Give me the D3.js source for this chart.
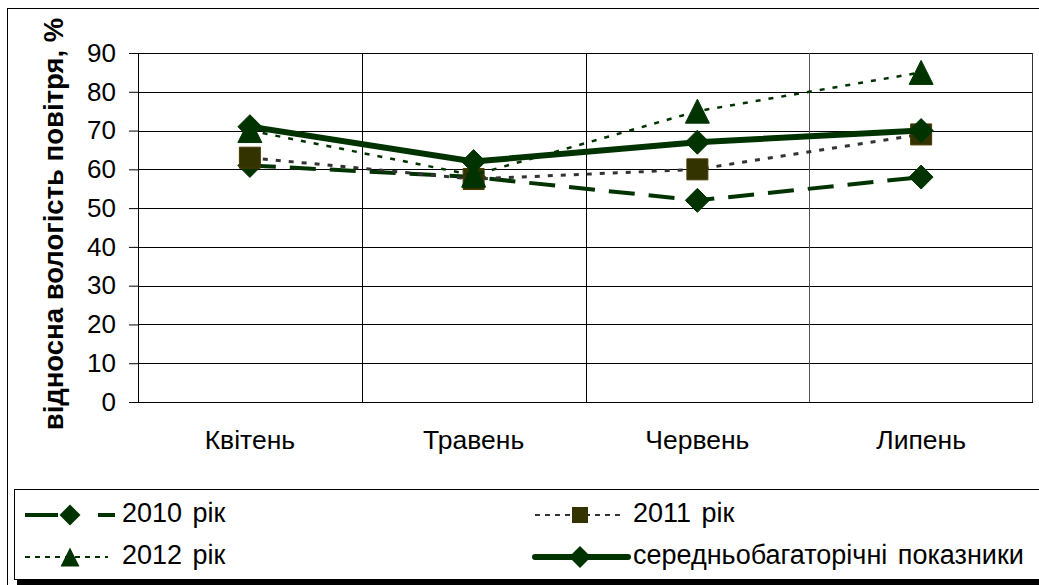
<!DOCTYPE html>
<html>
<head>
<meta charset="utf-8">
<script src="https://cdn.jsdelivr.net/npm/d3@7"></script>
<style>
  body { margin: 0; background: #fff; }
  text { font-family: "Liberation Sans", Arial, sans-serif; fill: #000; }
</style>
</head>
<body>
<div id="chart"></div>
<script>
// data
const months = ["Квітень", "Травень", "Червень", "Липень"];
const yTicks = [0, 10, 20, 30, 40, 50, 60, 70, 80, 90];
const y2010 = [61, 58, 52, 58];
const y2011 = [63, 57.5, 60, 69];
const y2012 = [70, 58.5, 75, 85];
const yAvg  = [71, 62, 67, 70];
const seriesNames = ["2010 рік", "2011 рік", "2012 рік", "середньобагаторічні показники"];

const W = 1039, H = 585;
const margin = { top: 53, right: 6, bottom: 183, left: 138 };
const width = W - margin.left - margin.right,
      height = H - margin.top - margin.bottom;

const svg = d3.select("#chart").append("svg")
  .attr("width", W).attr("height", H);

// outer chart frame (runs off the right / bottom edge)
svg.append("rect")
  .attr("x", 7.5).attr("y", 8.5).attr("width", 1100).attr("height", 600)
  .attr("fill", "none").attr("stroke", "#000");

const g = svg.append("g").attr("transform", `translate(${margin.left},${margin.top})`);

const x = d3.scaleBand().domain(months).range([0, width]);
const y = d3.scaleLinear().domain([0, 90]).range([height, 0]);

// horizontal grid
g.append("g").selectAll("line").data(yTicks).join("line")
  .attr("x1", 0).attr("x2", width)
  .attr("y1", d => Math.round(y(d)) + 0.5).attr("y2", d => Math.round(y(d)) + 0.5)
  .attr("stroke", "#000").attr("stroke-width", 1);

// vertical grid at category boundaries
g.append("g").selectAll("line").data(months.slice(1)).join("line")
  .attr("x1", d => Math.round(x(d)) + 0.5).attr("x2", d => Math.round(x(d)) + 0.5)
  .attr("y1", 0).attr("y2", height)
  .attr("stroke", (d, i) => i === 2 ? "#555" : "#000");

// plot border right
g.append("line")
  .attr("x1", width - 0.5).attr("x2", width - 0.5).attr("y1", 0).attr("y2", height)
  .attr("stroke", "#333");

// y axis
const yAxis = g.append("g")
  .call(d3.axisLeft(y).tickValues(yTicks).tickSize(9).tickPadding(13));
yAxis.select(".domain").attr("stroke", "#000");
yAxis.selectAll("text").style("font-size", "26px").attr("font-family", "Liberation Sans, Arial, sans-serif");

// x labels
g.append("g").selectAll("text").data(months).join("text")
  .attr("x", d => x(d) + x.bandwidth() / 2)
  .attr("y", height + 47)
  .attr("text-anchor", "middle")
  .style("font-size", "26.5px")
  .text(d => d);

// y title
svg.append("text")
  .attr("transform", "translate(63,224) rotate(-90)")
  .attr("text-anchor", "middle")
  .style("font-size", "27.5px").style("font-weight", "bold")
  .text("відносна вологість повітря, %");

const green = "#003300", olive = "#333300";

// marker paths
function diamond(r) { return `M0,${-r}L${r},0L0,${r}L${-r},0Z`; }
function square(r) { return `M${-r},${-r}H${r}V${r}H${-r}Z`; }
function triangle(r) { return `M0,${-r}L${r},${r}H${-r}Z`; }

const series = [
  { name: seriesNames[0], values: y2010, stroke: green, width: 4, dash: "26,14", marker: diamond, r: 12, fill: green },
  { name: seriesNames[1], values: y2011, stroke: "#333", width: 3, dash: "5,8", marker: square, r: 10.5, fill: olive },
  { name: seriesNames[2], values: y2012, stroke: green, width: 2.5, dash: "5,8", marker: triangle, r: 12, fill: green },
  { name: seriesNames[3], values: yAvg, stroke: green, width: 6, dash: null, marker: diamond, r: 12, fill: green }
];

const line = d3.line()
  .x((d, i) => x(months[i]) + x.bandwidth() / 2)
  .y(d => y(d));

series.forEach(s => {
  g.append("path")
    .datum(s.values)
    .attr("fill", "none")
    .attr("stroke", s.stroke)
    .attr("stroke-width", s.width)
    .attr("stroke-dasharray", s.dash)
    .attr("d", line);
  g.append("g").selectAll("path").data(s.values).join("path")
    .attr("transform", (d, i) => `translate(${x(months[i]) + x.bandwidth() / 2},${y(d)})`)
    .attr("d", s.marker(s.r))
    .attr("fill", s.fill)
    .attr("stroke", s.fill === olive ? "#4a3a00" : green)
    .attr("stroke-width", 1);
});

// legend (box runs off the right edge, black shadow along the bottom)
const lg = svg.append("g");
lg.append("rect").attr("x", 17).attr("y", 579).attr("width", 1030).attr("height", 6).attr("fill", "#000");
lg.append("rect")
  .attr("x", 14.5).attr("y", 489.5).attr("width", 1100).attr("height", 90)
  .attr("fill", "#fff").attr("stroke", "#000");

const legendItems = [
  { x1: 25, x2: 115, y: 515, mx: 70, tx: 122, dash: "33,40,17", r: 10.5, cap: "butt" },
  { x1: 535, x2: 623, y: 515, mx: 580, tx: 633, dash: "5,5", r: 8, cap: "butt" },
  { x1: 25, x2: 108, y: 557, mx: 70, tx: 122, dash: "5,5", r: 9.5, cap: "butt" },
  { x1: 535, x2: 628, y: 557, mx: 580, tx: 633, dash: null, r: 11, cap: "round" }
];
series.forEach((s, i) => {
  const p = legendItems[i];
  lg.append("line")
    .attr("x1", p.x1).attr("x2", p.x2)
    .attr("y1", p.y).attr("y2", p.y)
    .attr("stroke", s.stroke)
    .attr("stroke-width", i === 1 || i === 2 ? 2 : s.width)
    .attr("stroke-linecap", p.cap)
    .attr("stroke-dasharray", p.dash);
  lg.append("path")
    .attr("transform", `translate(${p.mx},${p.y})`)
    .attr("d", s.marker(p.r))
    .attr("fill", s.fill);
  lg.append("text")
    .attr("x", p.tx)
    .attr("y", p.y + 7)
    .style("font-size", "27px")
    .style("word-spacing", "3px")
    .text(s.name);
});
</script>
</body>
</html>
